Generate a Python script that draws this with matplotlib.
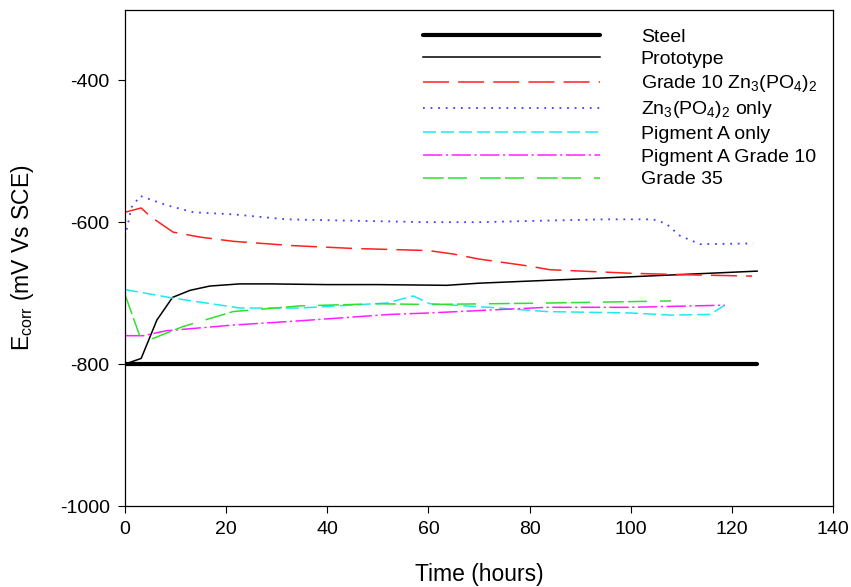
import matplotlib
matplotlib.use("Agg")
import matplotlib.pyplot as plt

plt.rcParams['font.family'] = ['Liberation Sans', 'DejaVu Sans']
plt.rcParams['mathtext.fontset'] = 'custom'
plt.rcParams['mathtext.rm'] = 'Liberation Sans'
plt.rcParams['mathtext.it'] = 'Liberation Sans'
plt.rcParams['mathtext.bf'] = 'Liberation Sans'
plt.rcParams['axes.unicode_minus'] = False

# -----------------------------
# Data
# -----------------------------
steel_t = [0, 125]
steel_e = [-800, -800]

proto_t = [0, 3.2, 6.3, 9.4, 12.9, 16.8, 22.7, 28.7, 40, 50, 63.6, 70, 83.4, 100, 125]
proto_e = [-800, -792, -738, -706, -696, -690, -687, -687, -688, -688, -689, -686, -682, -677, -669]

g10_t = [0, 3.2, 5, 9.5, 14.8, 21.4, 33, 45, 60, 65, 70, 80, 84, 100, 110, 124]
g10_e = [-586, -580, -592, -614, -621, -627, -633, -637, -640, -645, -652, -662, -667, -672, -674, -676]

zn_t = [0, 1.3, 3, 8.2, 13.5, 21.4, 32, 45, 60, 70, 82, 95, 104.4, 107, 109.7, 113.7, 124.2]
zn_e = [-621, -579, -563, -576, -586, -589, -596, -598, -600, -600, -598, -596, -596, -602, -619, -631, -630]

pigA_t = [0, 9.5, 22.7, 34.6, 51.7, 57, 60.3, 72, 83.4, 100, 108, 115.7, 118.6]
pigA_e = [-695, -707, -721, -721, -714, -704, -715, -720, -726, -728, -731, -730, -717]

pigA10_t = [0, 3.6, 8.2, 21.4, 34.6, 52.4, 60, 83.4, 100, 118.6]
pigA10_e = [-760, -760, -753, -745, -739, -730, -728, -720, -720, -717]

g35_t = [0, 3, 5.5, 11.5, 21.4, 34.6, 50, 60, 83.4, 108]
g35_e = [-702, -762, -764, -747, -726, -718, -715, -716, -714, -711]

labels = ["Steel", "Prototype", r"Grade 10 Zn$_3$(PO$_4$)$_2$", r"Zn$_3$(PO$_4$)$_2$ only",
          "Pigment A only", "Pigment A Grade 10", "Grade 35"]

# -----------------------------
# Plot
# -----------------------------
fig = plt.figure(figsize=(8.51, 5.87), dpi=100)
ax = fig.add_axes([125/851, 81/587, 708/851, 496/587])

ax.plot(steel_t, steel_e, color='black', lw=3.0, solid_capstyle='round', label=labels[0])
ax.plot(proto_t, proto_e, color='black', lw=1.1, label=labels[1])
ax.plot(g10_t, g10_e, color='#ff2020', lw=1.1, linestyle=(0, (17, 6)), label=labels[2])
ax.plot(zn_t, zn_e, color='#4040ff', lw=1.3, linestyle=(0, (1, 3.2)), label=labels[3])
ax.plot(pigA_t, pigA_e, color='#20e8f0', lw=1.1, linestyle=(0, (8.5, 3.3)), label=labels[4])
ax.plot(pigA10_t, pigA10_e, color='#ff20ff', lw=1.1, linestyle=(0, (12.7, 2.3, 1.4, 2.3)), label=labels[5])
ax.plot(g35_t, g35_e, color='#30e030', lw=1.1, linestyle=(0, (13.6, 2.7, 12.5, 8.5)), label=labels[6])

ax.set_xlim(0, 140)
ax.set_ylim(-1000, -301)
ax.set_xticks(range(0, 141, 20))
ax.set_yticks([-1000, -800, -600, -400])
ax.tick_params(direction='out', length=5, width=0.8, labelsize=14, pad=6)
for s in ax.spines.values():
    s.set_linewidth(0.9)

ax.set_xlabel("Time (hours)", fontsize=16.5)
ax.set_ylabel(r"E$_{\mathrm{corr}}$ (mV Vs SCE)", fontsize=16.5)
ax.xaxis.set_label_coords(0.5, -0.115)
ax.yaxis.set_label_coords(-0.126, 0.5)

ax.legend(loc='upper left', bbox_to_anchor=(423/851, 1 - 28/587), bbox_transform=fig.transFigure,
          frameon=False, fontsize=14, handlelength=9.1, handletextpad=2.1,
          labelspacing=0.26, borderpad=0, borderaxespad=0)

fig.savefig("out.png", dpi=100)
